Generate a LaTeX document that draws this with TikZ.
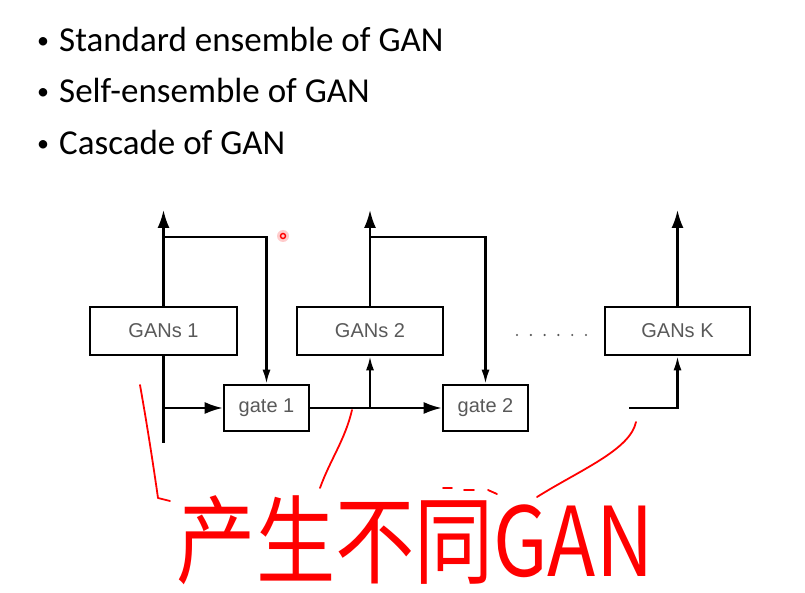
\documentclass[tikz,border=0pt]{standalone}
\usepackage{fontspec}
\setmainfont{Liberation Sans}
\newfontfamily\slidefont{Carlito}
\newfontfamily\cjk{Noto Sans CJK SC}
\usetikzlibrary{arrows.meta}
\begin{document}
\begin{tikzpicture}[x=1pt,y=-1pt,
    box/.style={draw,line width=2.6pt,minimum height=48pt,inner sep=0pt,text=gray!70!black,font=\fontsize{20}{23}\selectfont},
    gatebox/.style={box,minimum width=85pt,minimum height=46pt},
    flow/.style={line width=2.2pt,-{Latex[length=18pt,width=12pt]}},
    feed/.style={line width=2.2pt,-{Latex[length=14pt,width=8pt]}},
    ink/.style={red,line width=1.8pt,line cap=round,line join=round},
    bulletline/.style={anchor=base west,inner sep=0pt,font=\slidefont\fontsize{35}{40}\selectfont}]
    \useasboundingbox (0,0) rectangle (805,593);
    \node[bulletline] (item1) at (37,52) {\makebox[22pt][l]{\fontsize{24}{24}\selectfont\raisebox{3pt}{•}}Standard ensemble of GAN};
    \node[bulletline] (item2) at (37,103) {\makebox[22pt][l]{\fontsize{24}{24}\selectfont\raisebox{3pt}{•}}Self-ensemble of GAN};
    \node[bulletline] (item3) at (37,155) {\makebox[22pt][l]{\fontsize{24}{24}\selectfont\raisebox{3pt}{•}}Cascade of GAN};
    \node[box,minimum width=147pt] (gan1) at (163.5,331) {GANs 1};
    \node[box,minimum width=146pt] (gan2) at (370,331) {GANs 2};
    \node[box,minimum width=145pt] (gank) at (677.5,331) {GANs K};
    \node[gatebox] (gate1) at (266.5,408) {gate 1};
    \node[gatebox] (gate2) at (485.5,408) {gate 2};
    \coordinate (top) at (0,237);
    \coordinate (out) at (0,210);
    \coordinate (in1) at (163.5,443);
    \coordinate (ink) at (629,408);
    \draw[flow] (gan1.north) -- (gan1.north |- out);
    \draw[flow] (gan2.north) -- (gan2.north |- out);
    \draw[flow] (gank.north) -- (gank.north |- out);
    \draw[feed] (gan1.north |- top) -| (gate1.north);
    \draw[feed] (gan2.north |- top) -| (gate2.north);
    \draw[line width=2.2pt] (gan1.south) -- (in1);
    \draw[flow] (gan1.south |- gate1.west) -- (gate1.west);
    \draw[flow] (gate1.east) -- (gate2.west);
    \draw[feed] (gan2.south |- gate1.east) -- (gan2.south);
    \draw[feed] (ink) -| (gank.south);
    \foreach \i in {0,...,5}
        \fill[gray!70!black] (517+13.8*\i,335) circle (1.2pt);
    % red pen notes
    \fill[red!20] (283,236) circle (6);
    \draw[red,line width=1.4pt] (283,236) circle (2.5);
    \node[text=red,inner sep=0pt,font=\cjk\fontsize{74}{74}\selectfont] (note) at (415,540) {\scalebox{1.07}[1.3]{产生不同GAN}};
    \draw[ink] (140,385) .. controls (148,430) and (154,470) .. (158,498) -- (170,501);
    \draw[ink] (352,410) .. controls (345,440) and (330,460) .. (320,488);
    \draw[ink] (636,422) .. controls (630,450) and (580,470) .. (537,497);
    \draw[ink] (443,488) -- (452,488) (464,490) -- (474,490) (488,490) -- (497,494);
\end{tikzpicture}
\end{document}
